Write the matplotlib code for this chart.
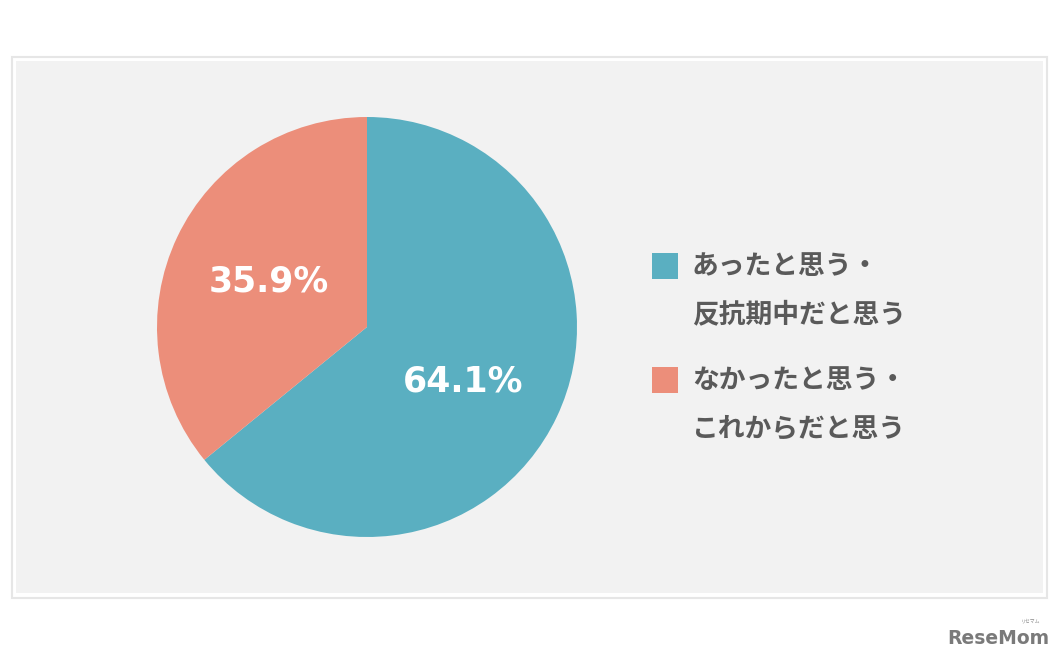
import matplotlib.pyplot as plt
from matplotlib.patches import Rectangle

labels = ["あったと思う・\n反抗期中だと思う", "なかったと思う・\nこれからだと思う"]
values = [64.1, 35.9]
colors = ["#5aafc1", "#ec8e7a"]

plt.rcParams['font.family'] = ['Noto Sans CJK JP', 'DejaVu Sans']

W, H = 1064, 661
fig = plt.figure(figsize=(W / 100, H / 100), dpi=100)
fig.patch.set_facecolor("white")
ax = fig.add_axes([0, 0, 1, 1])

# panel: thin outer frame + light gray fill
ax.add_patch(Rectangle((11.5, H - 598), 1035.5, 541.5, fill=False,
                       edgecolor="#e6e6e6", linewidth=1.5))
ax.add_patch(Rectangle((16, H - 593), 1027, 532, facecolor="#f2f2f2",
                       edgecolor="none"))

# pie
cx, cy, r = 367, H - 327, 210
ax.pie(values, colors=colors, startangle=90, counterclock=False,
       center=(cx, cy), radius=r, frame=True,
       wedgeprops=dict(linewidth=0))
ax.set_xlim(0, W)
ax.set_ylim(0, H)
ax.set_aspect("equal")
ax.axis("off")

pct_pos = [(463, H - 381), (269, H - 282)]
for v, (x, y) in zip(values, pct_pos):
    ax.text(x, y, f"{v}%", color="white", fontsize=25, fontweight="bold",
            family=["DejaVu Sans"], ha="center", va="center")

# legend
leg_y = [266, 380]
for lab, c, y in zip(labels, colors, leg_y):
    ax.add_patch(Rectangle((652, H - y - 13), 26, 26, facecolor=c,
                           edgecolor="none"))
    l1, l2 = lab.split("\n")
    ax.text(692, H - y, l1, color="#5a5a5a", fontsize=19.3, fontweight="bold",
            ha="left", va="center")
    ax.text(692, H - y - 48, l2, color="#5a5a5a", fontsize=19.3,
            fontweight="bold", ha="left", va="center")

# logo
ax.text(1049, H - 638, "ReseMom", color="#7a7a7a", fontsize=13.5,
        fontweight="bold", ha="right", va="center",
        family=["DejaVu Sans"])
ax.text(1040, H - 621, "リセマム", color="#8a8a8a", fontsize=3.5,
        ha="right", va="center")

fig.savefig("out.png", dpi=100)
